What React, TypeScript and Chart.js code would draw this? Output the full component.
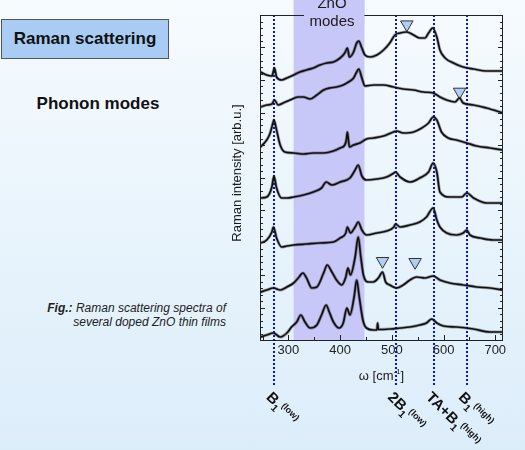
import React, { useEffect, useRef } from "react";
import { Chart, registerables } from "chart.js";
Chart.register(...registerables);

// ---- data ----
const xTicks = [300, 400, 500, 600, 700];
const bandRange = [310, 447];
const modeLines = [273, 508, 582, 645];
const modeMain = ["B", "2B", "TA+B", "B"];
const modeSub = ["1", "1", "1", "1"];
const modeSup = ["(low)", "(low)", "(high)", "(high)"];

const t1X = [246, 258, 268, 273, 277, 287, 297, 310, 322, 335, 348, 361, 374, 387, 400, 409, 414, 418, 426, 432, 436, 442, 448, 458, 471, 484, 496, 506, 516, 529, 542, 554, 564, 571, 579, 587, 593, 603, 619, 638, 658, 683, 715];
const t1Y = [268, 265, 264, 272, 263, 260, 262, 265, 268, 270, 272, 275, 277, 278, 282, 287, 292, 283, 288, 297, 299, 292, 285, 283, 285, 290, 297, 305, 307, 308, 305, 302, 302, 307, 312, 303, 290, 282, 277, 273, 271, 269, 269];

const t2X = [246, 258, 268, 273, 280, 290, 303, 319, 329, 342, 355, 368, 380, 393, 406, 416, 426, 432, 436, 442, 448, 464, 484, 503, 522, 542, 561, 580, 593, 606, 622, 631, 638, 658, 683, 709, 715];
const t2Y = [233, 235, 236, 240, 235, 237, 240, 243, 243, 241, 245, 250, 252, 253, 255, 258, 262, 268, 271, 262, 254, 255, 255, 253, 251, 250, 248, 247, 243, 240, 238, 242, 237, 235, 232, 228, 227];

const t3X = [246, 258, 264, 268, 272, 277, 284, 293, 310, 329, 348, 368, 387, 400, 409, 412, 414, 416, 418, 426, 438, 451, 464, 484, 503, 509, 522, 542, 558, 571, 580, 587, 596, 609, 625, 645, 664, 690, 715];
const t3Y = [193, 200, 206, 213, 220, 210, 195, 188, 187, 186, 187, 187, 189, 192, 195, 200, 208, 200, 193, 195, 197, 201, 202, 204, 208, 209, 207, 208, 212, 217, 223, 220, 208, 202, 200, 197, 194, 192, 190];

const t4X = [246, 258, 268, 272, 277, 287, 297, 310, 329, 348, 364, 373, 384, 400, 419, 429, 435, 442, 451, 471, 490, 504, 507, 516, 535, 554, 571, 580, 587, 593, 612, 635, 645, 658, 683, 715];
const t4Y = [142, 143, 153, 164, 152, 142, 142, 143, 145, 148, 152, 158, 155, 158, 162, 170, 175, 164, 160, 161, 163, 167, 168, 163, 158, 162, 168, 177, 168, 148, 143, 143, 147, 142, 137, 137];

const t5X = [246, 258, 268, 271, 277, 287, 297, 310, 335, 361, 387, 400, 411, 414, 420, 429, 435, 442, 451, 471, 490, 504, 507, 516, 535, 554, 567, 580, 587, 593, 606, 625, 638, 645, 651, 671, 696, 715];
const t5Y = [97, 100, 108, 113, 102, 93, 94, 95, 96, 97, 98, 102, 107, 113, 107, 113, 118, 110, 105, 107, 109, 113, 116, 113, 115, 118, 123, 132, 120, 113, 107, 105, 107, 110, 105, 102, 100, 100];

const t6X = [246, 258, 271, 284, 297, 310, 319, 328, 335, 345, 355, 368, 375, 384, 393, 403, 411, 415, 420, 429, 435, 440, 445, 455, 464, 474, 482, 488, 496, 509, 522, 535, 548, 564, 580, 593, 612, 638, 664, 690, 715];
const t6Y = [48, 50, 52, 50, 53, 57, 62, 67, 62, 52, 53, 67, 75, 68, 60, 55, 63, 72, 65, 83, 103, 83, 65, 58, 58, 62, 68, 58, 55, 52, 55, 60, 63, 62, 64, 60, 57, 55, 53, 52, 50];

const t7X = [246, 258, 271, 284, 297, 306, 316, 324, 332, 342, 355, 364, 373, 379, 387, 398, 406, 413, 419, 427, 432, 437, 444, 451, 464, 471, 472.5, 474, 496, 516, 535, 554, 567, 577, 587, 600, 625, 658, 690, 715];
const t7Y = [3, 5, 7, 3, 7, 13, 18, 25, 18, 12, 15, 25, 35, 28, 18, 12, 17, 32, 25, 43, 60, 43, 20, 12, 10, 10, 17, 10.5, 11, 12, 13, 15, 17, 21, 17, 14, 13, 11, 8, 8];

const triX = [529, 631, 482, 545];
const triY = [315.5, 248.2, 78.9, 77.9];

const traces = [
  [t1X, t1Y], [t2X, t2Y], [t3X, t3Y], [t4X, t4Y], [t5X, t5Y], [t6X, t6Y], [t7X, t7Y],
];

const FONT = '"Liberation Sans", Arial, sans-serif';
const BAND = "rgb(200,200,248)";

function drawModeLabel(ctx: CanvasRenderingContext2D, ax: number, ay: number, main: string, sub: string, sup: string) {
  ctx.save();
  ctx.translate(ax, ay);
  ctx.rotate(Math.PI / 4);
  ctx.textAlign = "left";
  ctx.textBaseline = "alphabetic";
  ctx.fillStyle = "#111";
  ctx.font = `bold 15px ${FONT}`;
  ctx.fillText(main, 0, 0);
  let w = ctx.measureText(main).width;
  ctx.font = `bold 10px ${FONT}`;
  ctx.fillText(sub, w, 4);
  w += ctx.measureText(sub).width + 0.5;
  ctx.font = `bold 9px ${FONT}`;
  ctx.fillText(sup, w, -5);
  ctx.restore();
}

const decor = {
  id: "decor",
  beforeDatasetsDraw(chart: any) {
    const { ctx, chartArea: a, scales } = chart;
    const x = scales.x;
    ctx.save();
    const b0 = x.getPixelForValue(bandRange[0]);
    const b1 = x.getPixelForValue(bandRange[1]);
    ctx.fillStyle = BAND;
    ctx.fillRect(b0, 0, b1 - b0, a.bottom);
    ctx.strokeStyle = "#0a14d8";
    ctx.lineWidth = 2;
    ctx.setLineDash([2, 2]);
    for (const v of modeLines) {
      const px = Math.round(x.getPixelForValue(v));
      ctx.beginPath();
      ctx.moveTo(px, a.top);
      ctx.lineTo(px, 386);
      ctx.stroke();
    }
    ctx.setLineDash([]);
    ctx.restore();
  },
  afterDatasetsDraw(chart: any) {
    const { ctx, chartArea: a, scales } = chart;
    const x = scales.x;
    const y = scales.y;
    ctx.save();
    // frame
    ctx.strokeStyle = "#222";
    ctx.lineWidth = 1;
    ctx.strokeRect(Math.round(a.left) + 0.5, Math.round(a.top) + 0.5, Math.round(a.right - a.left) - 1, Math.round(a.bottom - a.top));
    // left / right inward ticks
    let i = 0;
    for (let v = 0; v <= 325; v += 6.5, i++) {
      const py = Math.round(y.getPixelForValue(v)) + 0.5;
      const len = i % 5 === 0 ? 5 : 3;
      ctx.beginPath();
      ctx.moveTo(a.left, py);
      ctx.lineTo(a.left + len, py);
      ctx.moveTo(a.right, py);
      ctx.lineTo(a.right - len, py);
      ctx.stroke();
    }
    // bottom ticks
    for (let v = 250; v <= 700; v += 50) {
      const px = Math.round(x.getPixelForValue(v)) + 0.5;
      const len = v % 100 === 0 ? 5 : 3;
      ctx.beginPath();
      ctx.moveTo(px, a.bottom);
      ctx.lineTo(px, a.bottom - len);
      ctx.stroke();
    }
    // ZnO modes label
    const b1 = x.getPixelForValue(bandRange[1]);
    ctx.fillStyle = BAND;
    ctx.fillRect(304, 0, b1 - 304, 24);
    ctx.fillStyle = "#1a1a1a";
    ctx.font = `15px ${FONT}`;
    ctx.textAlign = "center";
    ctx.textBaseline = "alphabetic";
    ctx.fillText("ZnO", 332, 7.5);
    ctx.fillText("modes", 332, 26);
    // x title
    const cx = (a.left + a.right) / 2;
    const p1 = "ω [cm";
    const p3 = "]";
    ctx.font = `13px ${FONT}`;
    const w1 = ctx.measureText(p1).width;
    const w3 = ctx.measureText(p3).width;
    ctx.font = `8px ${FONT}`;
    const w2 = ctx.measureText("-1").width;
    const sx = cx - (w1 + w2 + w3) / 2;
    ctx.textAlign = "left";
    ctx.font = `13px ${FONT}`;
    ctx.fillText(p1, sx, 380);
    ctx.font = `8px ${FONT}`;
    ctx.fillText("-1", sx + w1, 374);
    ctx.font = `13px ${FONT}`;
    ctx.fillText(p3, sx + w1 + w2, 380);
    // y title
    ctx.save();
    ctx.translate(237, 173);
    ctx.rotate(-Math.PI / 2);
    ctx.textAlign = "center";
    ctx.textBaseline = "middle";
    ctx.font = `13px ${FONT}`;
    ctx.fillText("Raman intensity [arb.u.]", 0, 0);
    ctx.restore();
    // mode labels
    modeLines.forEach((v, k) => {
      const px = x.getPixelForValue(v);
      drawModeLabel(ctx, px - 9, 398, modeMain[k], modeSub[k], modeSup[k]);
    });
    ctx.restore();
  },
};

export default function App() {
  const ref = useRef<HTMLCanvasElement | null>(null);
  useEffect(() => {
    if (!ref.current) return;
    Chart.defaults.font.family = FONT;
    const datasets: any[] = [];
    traces.forEach(([xs, ys]) => {
      datasets.push({
        type: "line",
        data: xs.map((xv, k) => ({ x: xv, y: ys[k] })),
        borderColor: "rgba(40,40,40,0.4)",
        borderWidth: 3.2,
        pointRadius: 0,
        cubicInterpolationMode: "monotone",
      });
    });
    traces.forEach(([xs, ys]) => {
      datasets.push({
        type: "line",
        data: xs.map((xv, k) => ({ x: xv, y: ys[k] })),
        borderColor: "#000",
        borderWidth: 1.7,
        pointRadius: 0,
        cubicInterpolationMode: "monotone",
      });
    });
    datasets.push({
      type: "scatter",
      data: triX.map((xv, k) => ({ x: xv, y: triY[k] })),
      pointStyle: "triangle",
      rotation: 180,
      pointRadius: 7.2,
      backgroundColor: "rgb(178,205,245)",
      borderColor: "#333",
      borderWidth: 1,
      clip: false,
    });
    const chart = new Chart(ref.current, {
      type: "line",
      data: { datasets },
      options: {
        animation: false,
        responsive: false,
        devicePixelRatio: 1,
        layout: { padding: { left: 260, right: 22, top: 15, bottom: 0 } },
        plugins: { legend: { display: false }, tooltip: { enabled: false } },
        scales: {
          x: {
            type: "linear",
            min: 245,
            max: 715,
            grid: { display: false, drawTicks: false },
            border: { display: false },
            ticks: { font: { size: 13, family: FONT }, color: "#222", padding: 3, maxRotation: 0 },
            afterBuildTicks: (s: any) => {
              s.ticks = xTicks.map((v) => ({ value: v }));
            },
            afterFit: (s: any) => {
              s.height = 110;
            },
          },
          y: { display: false, min: 0, max: 325 },
        },
      } as any,
      plugins: [decor],
    });
    return () => chart.destroy();
  }, []);

  return (
    <div
      style={{
        position: "absolute",
        left: 0,
        top: 0,
        width: 525,
        height: 450,
        overflow: "hidden",
        background: "linear-gradient(180deg, #f6fbfe 0%, #dcedfa 100%)",
        fontFamily: FONT,
        color: "#111",
      }}
    >
      <div
        style={{
          position: "absolute",
          left: 1,
          top: 19,
          width: 166,
          height: 38,
          background: "#a8ccf3",
          border: "1px solid #555",
          fontWeight: "bold",
          fontSize: 17,
          lineHeight: "38px",
          textAlign: "center",
        }}
      >
        Raman scattering
      </div>
      <div
        style={{
          position: "absolute",
          left: 0,
          top: 93,
          width: 196,
          textAlign: "center",
          fontWeight: "bold",
          fontSize: 17,
          lineHeight: "22px",
        }}
      >
        Phonon modes
      </div>
      <div
        style={{
          position: "absolute",
          left: 0,
          top: 301,
          width: 226,
          textAlign: "right",
          fontSize: 12,
          lineHeight: "14px",
          fontStyle: "italic",
          color: "#222",
        }}
      >
        <b>Fig.:</b> Raman scattering spectra of
        <br />
        several doped ZnO thin films
      </div>
      <canvas ref={ref} width={525} height={450} style={{ position: "absolute", left: 0, top: 0, display: "block" }} />
    </div>
  );
}
